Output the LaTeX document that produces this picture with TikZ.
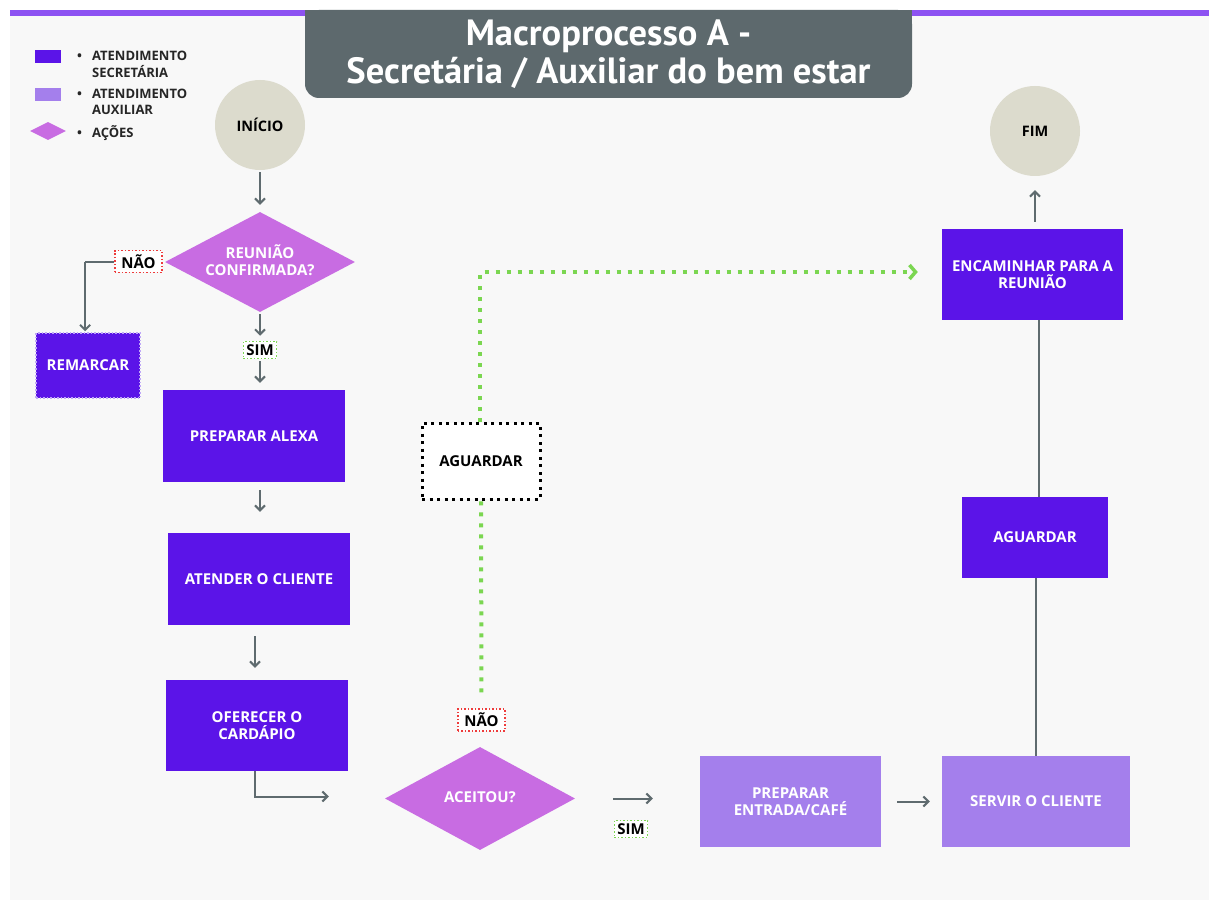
\documentclass[tikz,border=0pt]{standalone}
\usepackage{fontspec}
\setmainfont{Open Sans}
\newfontfamily\titlefont{PT Sans}
\usetikzlibrary{shapes.geometric,arrows.meta}
\definecolor{panel}{HTML}{F8F8F8}
\definecolor{sec}{HTML}{5B14E8}
\definecolor{aux}{HTML}{A47FEC}
\definecolor{acao}{HTML}{C86CE2}
\definecolor{circ}{HTML}{DCDBCD}
\definecolor{titlebg}{HTML}{5D696D}
\definecolor{topline}{HTML}{8D52F2}
\definecolor{arrowgray}{HTML}{5F6B6F}
\definecolor{okgreen}{HTML}{7BD651}
\definecolor{nored}{HTML}{EE3B3B}
\definecolor{remborder}{HTML}{BFA8F7}
\newcommand\dtext[1]{\smash{\makebox[0pt]{\raisebox{-0.5ex}{\begin{tabular}{@{}c@{}}#1\end{tabular}}}}}
\begin{document}
\begin{tikzpicture}[x=1pt,y=-1pt,
  boxtxt/.style={font=\fontsize{15}{16.5}\selectfont\bfseries, text=white, align=center},
  secbox/.style={boxtxt, rectangle, fill=sec, inner sep=0pt},
  auxbox/.style={boxtxt, rectangle, fill=aux, inner sep=0pt},
  acaobox/.style={boxtxt, diamond, fill=acao, inner sep=0pt},
  startend/.style={circle, fill=circ, minimum size=90pt, inner sep=0pt, font=\fontsize{14.5}{16}\selectfont\bfseries, text=black},
  nolabel/.style={draw=nored, dotted, line width=1.5pt, fill=white, inner xsep=6.5pt, inner ysep=4pt, font=\fontsize{15}{16}\selectfont\bfseries},
  yeslabel/.style={draw=okgreen, dotted, line width=1.5pt, fill=white, inner xsep=3pt, inner ysep=3pt, font=\fontsize{15}{16}\selectfont\bfseries},
  arr/.style={draw=arrowgray, line width=2pt, -{Straight Barb[length=5pt,width=10pt,line width=2pt]}},
  plainline/.style={draw=arrowgray, line width=2pt},
  greendot/.style={draw=okgreen, line width=4pt, dash pattern=on 4pt off 7pt},
  legtxt/.style={font=\fontsize{13}{16}\selectfont\bfseries, text=black!85, anchor=north west, inner sep=0pt}
]
\useasboundingbox (0,0) rectangle (1209,904);
\fill[white] (0,0) rectangle (1209,904);
\fill[panel] (10,10) rectangle (1209,900);
\fill[topline] (10,10) rectangle (1209,16);

% title
\fill[titlebg] (305,10) rectangle (912,40);
\node[fill=titlebg, rounded corners=14pt, minimum width=607pt, minimum height=88pt, inner sep=0pt,
  text=white, align=center, font=\titlefont\bfseries\fontsize{36.5}{38}\selectfont] (title) at (608.5,54)
  {Macroprocesso A -\\Secretária / Auxiliar do bem estar};

% legend
\node[fill=sec, minimum width=26pt, minimum height=13pt, inner sep=0pt] (lg1) at (48,56.5) {};
\node[fill=aux, minimum width=26pt, minimum height=13pt, inner sep=0pt] (lg2) at (48,94.5) {};
\node[fill=acao, diamond, minimum width=36pt, minimum height=18pt, inner sep=0pt] (lg3) at (48,131) {};
\node[legtxt] (lt1) at (77,49) {\begin{tabular}{@{}l@{\hspace{10pt}}l@{}}•&ATENDIMENTO\\&SECRETÁRIA\end{tabular}};
\node[legtxt] (lt2) at (77,87) {\begin{tabular}{@{}l@{\hspace{10pt}}l@{}}•&ATENDIMENTO\\&AUXILIAR\end{tabular}};
\node[legtxt] (lt3) at (77,125) {\begin{tabular}{@{}l@{\hspace{10pt}}l@{}}•&AÇÕES\end{tabular}};

% nodes
\node[startend] (inicio) at (260,125) {INÍCIO};
\node[acaobox, minimum width=190pt, minimum height=100pt] (reuniao) at (260,262) {\dtext{REUNIÃO\\CONFIRMADA?}};
\node[nolabel] (nao1) at (138.5,261.5) {NÃO};
\node[secbox, minimum width=104pt, minimum height=65pt, draw=remborder, dotted, line width=1.5pt] (remarcar) at (88,365.5) {REMARCAR};
\node[yeslabel] (sim1) at (260,350) {SIM};
\node[secbox, minimum width=182pt, minimum height=92pt] (alexa) at (254,436) {PREPARAR ALEXA};
\node[secbox, minimum width=182pt, minimum height=92pt] (atender) at (259,579) {ATENDER O CLIENTE};
\node[secbox, minimum width=182pt, minimum height=91pt] (oferecer) at (257,725.5) {OFERECER O\\CARDÁPIO};
\node[acaobox, minimum width=190pt, minimum height=103pt] (aceitou) at (480,798.5) {\dtext{ACEITOU?}};
\node[nolabel] (nao2) at (481.5,720) {NÃO};
\node[yeslabel] (sim2) at (631,829) {SIM};
\node[draw=black, fill=white, line width=3pt, dash pattern=on 3pt off 4.5pt, minimum width=118pt, minimum height=76pt,
  font=\fontsize{15}{16}\selectfont\bfseries, inner sep=0pt] (aguardar1) at (481,461) {AGUARDAR};
\node[auxbox, minimum width=181pt, minimum height=91pt] (entrada) at (790.5,801.5) {PREPARAR\\ENTRADA/CAFÉ};
\node[auxbox, minimum width=188pt, minimum height=91pt] (servir) at (1036,801.5) {SERVIR O CLIENTE};
\node[secbox, minimum width=146pt, minimum height=81pt] (aguardar2) at (1035,537.5) {AGUARDAR};
\node[secbox, minimum width=181pt, minimum height=91pt] (encaminhar) at (1032.5,274.5) {ENCAMINHAR PARA A\\REUNIÃO};
\node[startend] (fim) at (1035,131) {FIM};

% connectors
\draw[arr, shorten <=2pt, shorten >=7pt] (inicio) -- (reuniao);
\draw[arr, shorten <=2pt, shorten >=5pt] (reuniao) -- (sim1);
\draw[arr, shorten <=2pt, shorten >=7pt] (sim1) -- (sim1 |- alexa.north);
\draw[plainline, -] (nao1.west) -- ++(-29,0) coordinate (naocorner);
\draw[arr, shorten >=1pt] (naocorner) -- (naocorner |- remarcar.north);
\draw[arr, shorten <=8pt, shorten >=21pt] ([xshift=6pt]alexa.south) -- ([xshift=6pt]alexa.south |- atender.north);
\draw[arr, shorten <=11pt, shorten >=12pt] ([xshift=-4pt]atender.south) -- ([xshift=-4pt]atender.south |- oferecer.north);
\draw[arr, shorten >=56pt] ([xshift=-2pt]oferecer.south) |- ([yshift=2pt]aceitou.west);
\draw[arr, shorten <=38pt, shorten >=47pt] (aceitou.east) -- (aceitou.east -| entrada.west);
\draw[arr, shorten <=16pt, shorten >=12pt] (entrada.east) -- (entrada.east -| servir.west);
\draw[plainline] (servir.north) -- (servir.north |- aguardar2.south);
\draw[plainline] ([xshift=6.5pt]encaminhar.south |- aguardar2.north) -- ([xshift=6.5pt]encaminhar.south);
\draw[arr, shorten <=7pt, shorten >=14pt] ([xshift=2.5pt]encaminhar.north) -- ([xshift=2.5pt]encaminhar.north |- fim.south);
\draw[greendot, shorten <=16pt] (nao2.north) -- (aguardar1.south);
\draw[greendot, -{Straight Barb[length=6pt,width=14pt,line width=3.5pt]}, shorten >=24pt]
  ([xshift=-1pt]aguardar1.north) |- ([yshift=2.5pt]encaminhar.west);
\end{tikzpicture}
\end{document}
